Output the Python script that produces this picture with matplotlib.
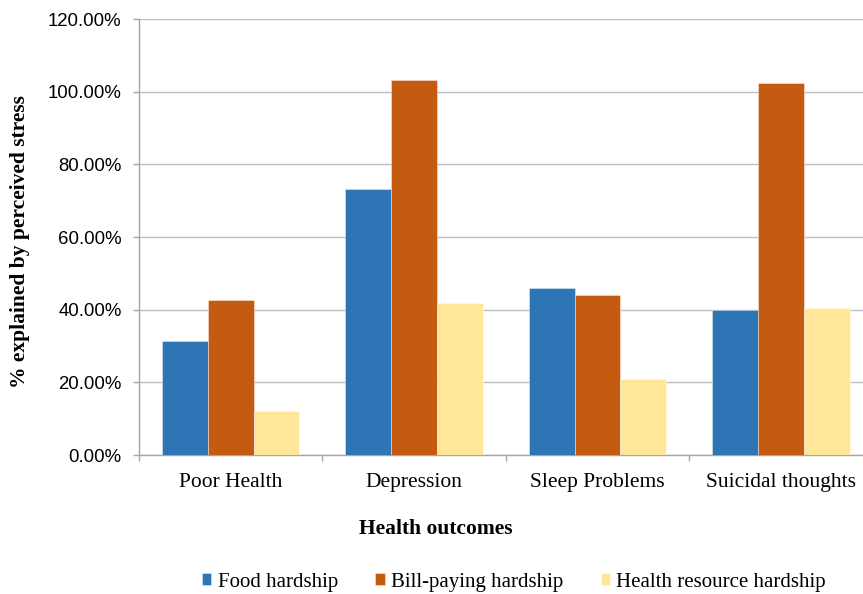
import matplotlib
matplotlib.use("Agg")
import matplotlib.pyplot as plt
import numpy as np
from matplotlib.ticker import FuncFormatter, FixedLocator

# Share of each hardship effect explained by perceived stress (%)
outcomes = ["Poor Health", "Depression", "Sleep Problems", "Suicidal thoughts"]
food_hardship = [31.3, 73.1, 45.9, 39.9]
bill_hardship = [42.6, 103.1, 43.9, 102.4]
health_resource_hardship = [12.1, 41.8, 20.8, 40.4]

series_names = ["Food hardship", "Bill-paying hardship", "Health resource hardship"]
series_values = [food_hardship, bill_hardship, health_resource_hardship]
series_colors = ["#2E75B6", "#C55A11", "#FFE699"]

serif = "Liberation Serif"
sans = "Liberation Sans"

fig = plt.figure(figsize=(8.63, 5.94), dpi=100)
ax = fig.add_axes([139 / 863, 139 / 594, 733.6 / 863, 436 / 594])

x = np.arange(len(outcomes))
width = 0.25
for i, (name, vals, col) in enumerate(zip(series_names, series_values, series_colors)):
    ax.bar(x + (i - 1) * width, vals, width, color=col, label=name,
           edgecolor=(1, 1, 1, 0.45), linewidth=0.6, zorder=3)

ax.set_xlim(-0.5, len(outcomes) - 0.5)
ax.set_ylim(0, 120)
ax.set_yticks(np.arange(0, 121, 20))
ax.yaxis.set_major_formatter(FuncFormatter(lambda v, _: f"{v:.2f}%"))
ax.grid(axis="y", color="#BFBFBF", linewidth=1.0, zorder=0)

# category labels centred, tick marks on the group boundaries
ax.set_xticks(x)
ax.set_xticklabels(outcomes, fontfamily=serif, fontsize=15.5)
ax.tick_params(axis="x", which="major", length=0, pad=13)
ax.xaxis.set_minor_locator(FixedLocator(np.arange(-0.5, len(outcomes), 1.0)))
ax.tick_params(axis="x", which="minor", length=4, color="#A6A6A6", width=1)
ax.tick_params(axis="y", length=4.5, color="#A6A6A6", width=1, pad=8)
for lbl in ax.get_yticklabels():
    lbl.set_fontfamily(sans)
    lbl.set_fontsize(13.4)

for side in ["top", "right"]:
    ax.spines[side].set_visible(False)
for side in ["left", "bottom"]:
    ax.spines[side].set_color("#A6A6A6")
    ax.spines[side].set_linewidth(1)

ax.set_xlabel("Health outcomes", fontfamily=serif, fontsize=15.5, fontweight="bold")
ax.xaxis.set_label_coords((436 - 139) / 733.6, (455 - 519) / 436)
ax.set_ylabel("% explained by perceived stress", fontfamily=serif, fontsize=15.5,
              fontweight="bold")
ax.yaxis.set_label_coords((30 - 139) / 733.6, (455 - 242) / 436)

fig.legend(loc="center", bbox_to_anchor=(514 / 863, 12 / 594), ncol=3, frameon=False,
           prop={"family": serif, "size": 15}, handlelength=0.45, handleheight=0.45,
           handletextpad=0.3, columnspacing=1.8)

fig.savefig("out.png", dpi=100)
